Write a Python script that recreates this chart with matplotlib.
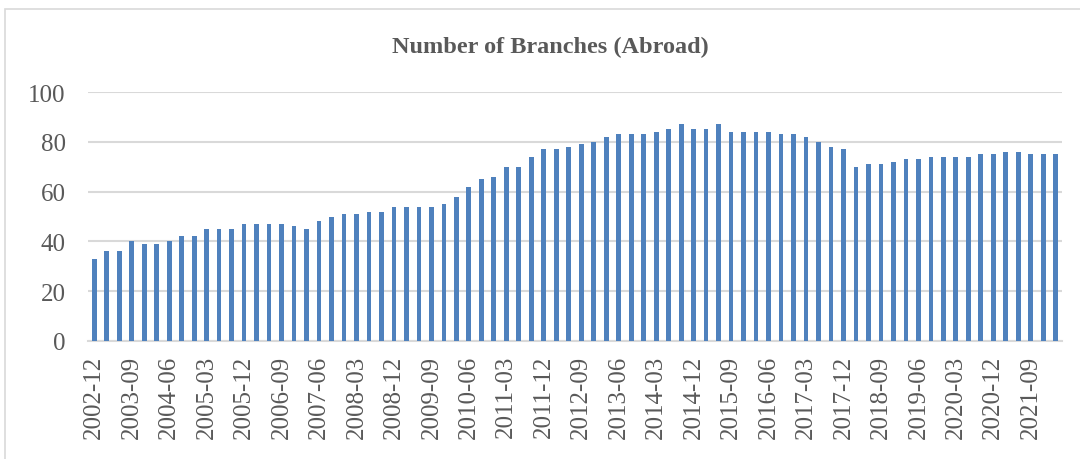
import numpy as np
import pandas as pd
from matplotlib import pyplot as plt
from matplotlib.patches import Rectangle

# quarterly branch counts, 2002-12 .. 2022-03
branches = [33, 36, 36, 40, 39, 39, 40, 42, 42, 45,
            45, 45, 47, 47, 47, 47, 46, 45, 48, 50,
            51, 51, 52, 52, 54, 54, 54, 54, 55, 58,
            62, 65, 66, 70, 70, 74, 77, 77, 78, 79,
            80, 82, 83, 83, 83, 84, 85, 87, 85, 85,
            87, 84, 84, 84, 84, 83, 83, 82, 80, 78,
            77, 70, 71, 71, 72, 73, 73, 74, 74, 74,
            74, 75, 75, 76, 76, 75, 75, 75]
quarters = [p.strftime("%Y-%m") for p in pd.period_range("2002Q4", "2022Q1", freq="Q").to_timestamp(how="end")]
title = "Number of Branches (Abroad)"

plt.rcParams['font.family'] = ['Liberation Serif', 'DejaVu Serif']
text_color = '#595959'
grid_color = '#D9D9D9'

fig = plt.figure(figsize=(10.8, 4.6), dpi=100)
ax = fig.add_axes([88 / 1080, 1 - 342 / 460, (1062 - 88) / 1080, (342 - 93) / 460])

# chart area frame (cut off at right and bottom like the screenshot)
fig.patches.append(Rectangle((5 / 1080, -0.1), 1.2, 1 - 10 / 460 + 0.1, transform=fig.transFigure,
                             fill=False, edgecolor=grid_color, linewidth=1.2))

x = np.arange(len(branches))
ax.bar(x, branches, width=0.38, color='#4F81BD', zorder=3)

ax.set_xlim(-0.5, len(branches) - 0.5)
ax.set_ylim(0, 100)
ax.set_yticks(np.arange(0, 101, 20))
ax.set_xticks(x[::3])
ax.set_xticklabels(quarters[::3], rotation=90)
ax.tick_params(axis='both', length=0, colors=text_color)
ax.tick_params(axis='y', pad=16, labelsize=18)
ax.tick_params(axis='x', pad=10, labelsize=18)
ax.grid(axis='y', color=grid_color, linewidth=1.5, zorder=0)
for side in ['top', 'right', 'left']:
    ax.spines[side].set_visible(False)
ax.spines['bottom'].set_color(grid_color)
ax.spines['bottom'].set_linewidth(1.5)

fig.text(550 / 1080, 1 - 47 / 460, title, ha='center', va='center',
         fontsize=17.5, fontweight='bold', color=text_color)

plt.savefig("out.png", dpi=100)
